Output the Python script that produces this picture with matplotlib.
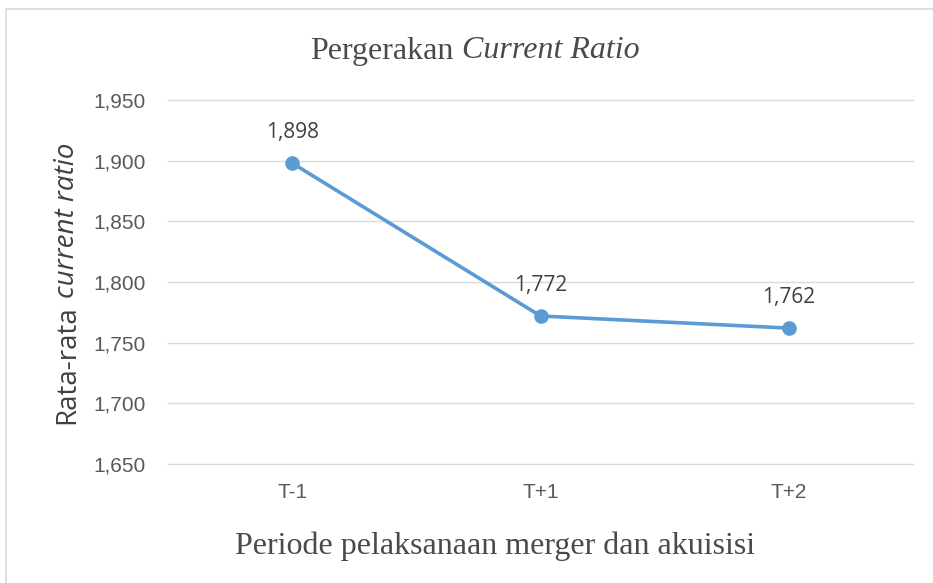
import matplotlib.pyplot as plt
from matplotlib.patches import Rectangle
from matplotlib.ticker import FuncFormatter

# Data
periode = ['T-1', 'T+1', 'T+2']
rata_cr = [1.898, 1.772, 1.762]
label_cr = ['1,898', '1,772', '1,762']
y_ticks = [1.65, 1.70, 1.75, 1.80, 1.85, 1.90, 1.95]

fig = plt.figure(figsize=(9.33, 5.83), dpi=100)
W, H = 933, 583
ax = fig.add_axes([168 / W, 1 - 464 / H, (913 - 168) / W, (464 - 100) / H])

# bingkai chart
fig.patches.append(Rectangle((6 / W, -0.1), 1, 1.1 - 9 / H, transform=fig.transFigure,
                             fill=False, edgecolor='#d9d9d9', linewidth=1.2))

x = list(range(len(periode)))
ax.plot(x, rata_cr, color='#5b9bd5', linewidth=2.6, marker='o', markersize=9.5,
        markerfacecolor='#5b9bd5', markeredgecolor='#5b9bd5', zorder=3, clip_on=False)

for xi, yi, lab in zip(x, rata_cr, label_cr):
    ax.annotate(lab, (xi, yi), xytext=(0, 22), textcoords='offset points',
                ha='center', va='center', fontsize=15, color='#404040',
                family=['Open Sans', 'DejaVu Sans'])

ax.set_xlim(-0.5, 2.5)
ax.set_ylim(1.65, 1.95)
ax.set_yticks(y_ticks)
ax.yaxis.set_major_formatter(FuncFormatter(lambda v, p: f'{v:.3f}'.replace('.', ',')))
ax.set_xticks(x)
ax.set_xticklabels(periode)
ax.grid(axis='y', color='#d9d9d9', linewidth=1)
ax.set_axisbelow(True)
for gl in ax.get_ygridlines():
    gl.set_clip_on(False)
for s in ax.spines.values():
    s.set_visible(False)
ax.tick_params(axis='y', length=0, labelsize=15, labelcolor='#595959', pad=16)
ax.tick_params(axis='x', length=0, labelsize=15, labelcolor='#595959', pad=14)
for t in ax.get_xticklabels() + ax.get_yticklabels():
    t.set_family('Liberation Sans')

# Judul dan label (bagian miring digambar terpisah)
r = fig.canvas.get_renderer()

def two_part(x0, y0, a, b, size, family, rot=0, color='#404040'):
    t1 = fig.text(0, 0, a, fontsize=size, family=family, color=color,
                  rotation=rot, ha='left', va='center')
    t2 = fig.text(0, 0, b, fontsize=size, family=family, color=color,
                  style='italic', rotation=rot, ha='left', va='center')
    e1 = t1.get_window_extent(r)
    e2 = t2.get_window_extent(r)
    gap = size * 100 / 72 * 0.25
    if rot == 0:
        total = e1.width + gap + e2.width
        start = x0 - total / 2
        t1.set_position((start / W, 1 - y0 / H))
        t2.set_position(((start + e1.width + gap) / W, 1 - y0 / H))
    else:
        total = e1.height + gap + e2.height
        start = y0 + total / 2
        t1.set_va('bottom')
        t2.set_va('bottom')
        t1.set_ha('center')
        t2.set_ha('center')
        t1.set_position((x0 / W, 1 - start / H))
        t2.set_position((x0 / W, 1 - (start - e1.height - gap) / H))

two_part(475, 51, 'Pergerakan', 'Current Ratio', 23, 'Liberation Serif', color='#4a4a4a')
two_part(67, 283, 'Rata-rata', 'current ratio', 20, ['Open Sans', 'DejaVu Sans'], rot=90)

fig.text(495 / W, 1 - 546 / H, 'Periode pelaksanaan merger dan akuisisi', ha='center',
         va='center', fontsize=23, color='#4a4a4a', family='Liberation Serif')

fig.savefig('out.png', dpi=100)
